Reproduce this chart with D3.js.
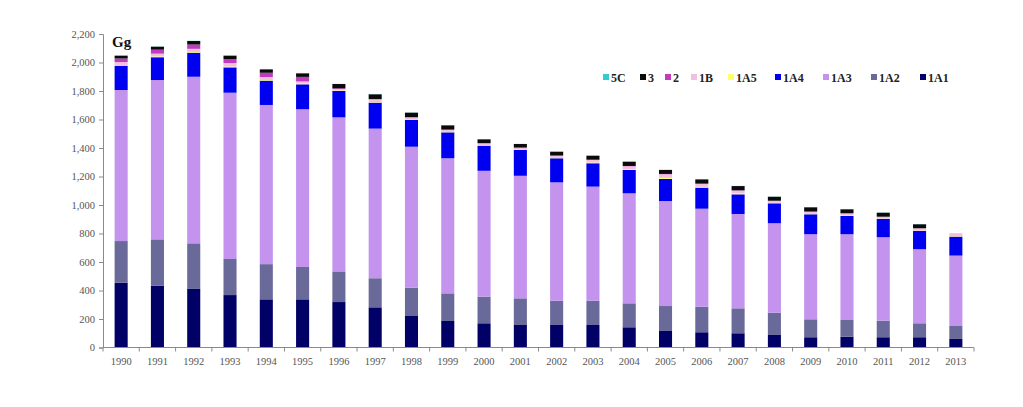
<!DOCTYPE html>
<html><head><meta charset="utf-8">
<script src="https://cdn.jsdelivr.net/npm/d3@7"></script>
<style>body{margin:0;background:#fff}svg{display:block}</style>
</head><body>
<svg id="c" width="1023" height="407"></svg>
<script>
const years = ["1990","1991","1992","1993","1994","1995","1996","1997","1998","1999","2000","2001","2002","2003","2004","2005","2006","2007","2008","2009","2010","2011","2012","2013"];
const s1A1 = [455,434,411,368,338,338,319,282,221,186,170,158,158,158,142,116,107,100,88,72,76,72,72,60];
const s1A2 = [292,325,320,253,247,227,215,204,199,194,187,187,170,170,168,175,179,175,156,126,117,116,98,91];
const s1A3 = [1060,1118,1169,1167,1117,1107,1081,1050,989,948,883,860,831,801,772,737,688,662,628,597,602,586,520,494];
const s1A4 = [171,160,169,178,171,175,185,182,188,182,176,181,169,164,164,155,148,138,140,140,128,128,128,133];
const s1A5 = [5,5,5,5,5,5,4,3,3,3,3,3,3,5,6,8,6,6,3,3,3,2,3,3];
const s1B = [20,20,22,25,20,15,10,20,15,15,14,13,15,18,20,25,20,20,14,15,15,13,15,20];
const s2 = [25,28,30,27,30,32,5,3,1,1,1,1,1,2,2,2,2,2,1,1,1,1,1,0];
const s3 = [20,21,25,25,24,25,30,33,32,30,27,25,27,28,30,28,30,30,28,30,28,28,28,0];
const s5C = [1,1,1,1,1,1,1,1,1,1,1,1,1,1,1,1,1,1,1,1,1,1,1,1];
const yTicks = [0,200,400,600,800,1000,1200,1400,1600,1800,2000,2200];

const keys = ["1A1","1A2","1A3","1A4","1A5","1B","2","3","5C"];
const seriesVals = {"1A1":s1A1,"1A2":s1A2,"1A3":s1A3,"1A4":s1A4,"1A5":s1A5,"1B":s1B,"2":s2,"3":s3,"5C":s5C};
const colors = {"1A1":"#000066","1A2":"#69699a","1A3":"#c393ee","1A4":"#0000f0","1A5":"#ffff66","1B":"#f2bfdc","2":"#c23ac2","3":"#0a0a0a","5C":"#33cccc"};
const legendOrder = ["5C","3","2","1B","1A5","1A4","1A3","1A2","1A1"];

const rows = years.map((y,i)=>{const r={year:y};keys.forEach(k=>r[k]=seriesVals[k][i]);return r;});
const stacked = d3.stack().keys(keys)(rows);

const svg = d3.select("#c");
const x = d3.scaleBand().domain(years).range([103,974]).paddingInner(0.64).paddingOuter(0.32);
const y = d3.scaleLinear().domain([0,2200]).range([347.5,34]);

// bars
svg.append("g").selectAll("g").data(stacked).join("g")
  .attr("fill",d=>colors[d.key])
  .selectAll("rect").data(d=>d).join("rect")
  .attr("x",d=>x(d.data.year))
  .attr("width",x.bandwidth())
  .attr("y",d=>y(d[1]))
  .attr("height",d=>Math.max(0,y(d[0])-y(d[1])));

// y axis
const yAxis = d3.axisLeft(y).tickValues(yTicks).tickSize(4).tickPadding(4).tickFormat(d3.format(","));
const gy = svg.append("g").attr("transform","translate(103,0)").call(yAxis);
gy.selectAll("path,line").attr("stroke","#8a8a8a");
gy.selectAll("text").attr("font-family","'Liberation Serif',serif").attr("font-size",10.5).attr("fill","#555");

// x axis
const step = x.step();
const gx = svg.append("g").attr("transform","translate(0,347.5)");
gx.append("line").attr("x1",103).attr("x2",974).attr("stroke","#8a8a8a");
const bounds = years.map((d,i)=>103+i*step).concat([974]);
gx.selectAll("line.t").data(bounds).join("line").attr("class","t")
  .attr("x1",d=>d).attr("x2",d=>d).attr("y1",0).attr("y2",4).attr("stroke","#8a8a8a");
gx.selectAll("text").data(years).join("text")
  .attr("x",d=>x(d)+x.bandwidth()/2).attr("y",17)
  .attr("text-anchor","middle").attr("font-family","'Liberation Serif',serif")
  .attr("font-size",10.5).attr("fill","#555").text(d=>d);

// unit label
svg.append("text").attr("x",112).attr("y",47).attr("font-family","'Liberation Serif',serif")
  .attr("font-weight","bold").attr("font-size",15).attr("fill","#111").text("Gg");

// legend
const legX = [603,640,665,691,728,775,823,871,920];
const lg = svg.append("g").selectAll("g").data(legendOrder).join("g")
  .attr("transform",(d,i)=>`translate(${legX[i]},77)`);
lg.append("rect").attr("x",0).attr("y",-3).attr("width",6).attr("height",6).attr("fill",d=>colors[d]);
lg.append("text").attr("x",8).attr("y",4.5).attr("font-family","'Liberation Serif',serif")
  .attr("font-weight","bold").attr("font-size",12).attr("fill","#222").text(d=>d);
</script>
</body></html>
